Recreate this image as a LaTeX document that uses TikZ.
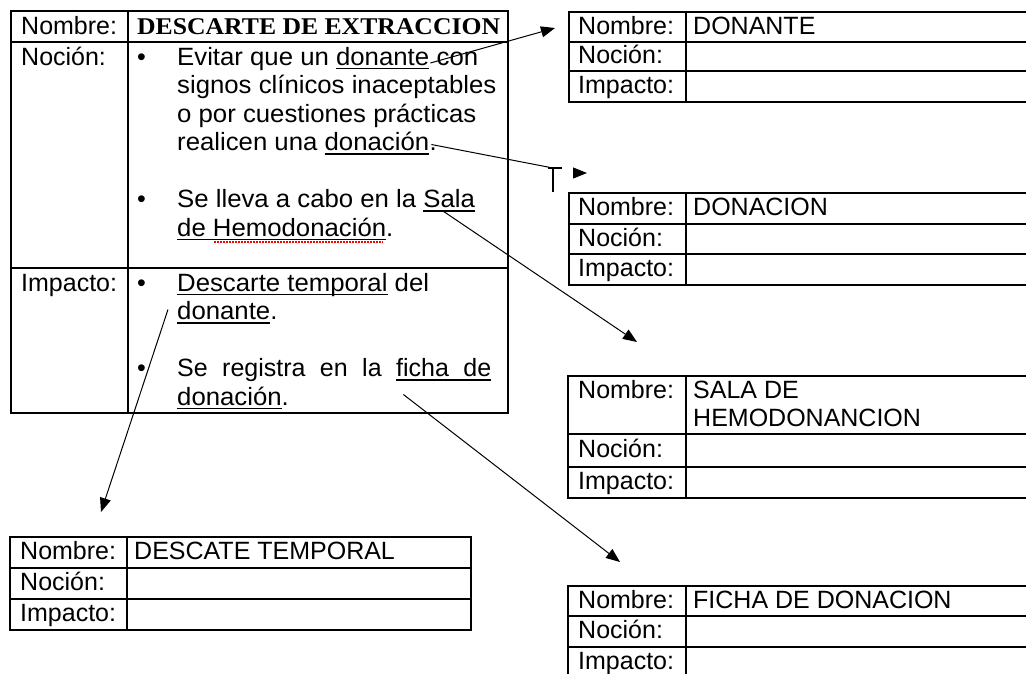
\documentclass[tikz,border=0pt]{standalone}
\usepackage{fontspec}
\setmainfont{Liberation Sans}
\newfontfamily\titlefont{Liberation Serif}
\newcommand\myul[1]{\leavevmode\setbox0\hbox{#1}\rlap{\rule[-4pt]{\wd0}{1.3pt}}\box0\relax}
\newcommand\js{\hskip 6.95pt plus 1fil\relax}
\newcommand\jsu{\leaders\hrule height -2.7pt depth 4pt\hskip 6.95pt plus 1fil\relax}
\usetikzlibrary{arrows.meta,calc}
\begin{document}
\begin{tikzpicture}[x=1pt,y=-1pt,
  txt/.style={anchor=base west,inner sep=0pt,font=\fontsize{25}{28.5}\selectfont},
  body/.style={txt,xscale=1.03},
  tbl/.style={line width=1.6pt},
  conn/.style={line width=1pt},
  arr/.style={line width=1pt,-{Triangle[length=14pt,width=11pt]}}]
\useasboundingbox (0,0) rectangle (1026,673);
\clip (0,0) rectangle (1026,673);

% ---------------- main table ----------------
\draw[tbl] (11,11) rectangle (508,413);
\draw[tbl] (128,11) -- (128,413);
\draw[tbl] (11,42) -- (508,42);
\draw[tbl] (11,268) -- (508,268);

\node[txt] (mnom) at (21,34) {Nombre:};
\node[txt] (title) at (137,34) {\fontsize{24}{28}\selectfont\titlefont\bfseries\scalebox{1.07}[1]{DESCARTE DE EXTRACCION}};
\node[txt] (mnoc) at (21,65) {Noción:};
\node[txt] (mimp) at (21,291) {Impacto:};

\node[txt] (b1) at (137,65) {•};
\node[txt] (b2) at (137,207.5) {•};
\node[txt] (b3) at (137,291) {•};
\node[txt] (b4) at (137,376.5) {•};

\node[body] (n1) at (177,65) {Evitar que un \myul{donante}};
\node[body] (n1b) at (n1.base east) {\ con};
\node[body] (n2) at (177,93.5) {signos clínicos inaceptables};
\node[body] (n3) at (177,122) {o por cuestiones prácticas};
\node[body] (n4) at (177,150.5) {realicen una \myul{donación}};
\node[body] (n4b) at (n4.base east) {.};
\node[body] (n5) at (177,207.5) {Se lleva a cabo en la \myul{Sala}};
\node[body] (n6) at (177,236) {\myul{de Hemodonación}.};
\draw[red,line width=1.5pt,dash pattern=on 1.5pt off 1.5pt] ($(n6.base west)+(37,6)$) -- ($(n6.base west)+(206,6)$);

\node[body] (i1) at (177,291) {\myul{Descarte temporal} del};
\node[body] (i2) at (177,319.5) {\myul{donante}.};
\node[txt] (i3) at (177,376.5) {\hbox to 314pt{Se\js registra\js en\js la\js \myul{ficha}\jsu\myul{de}}};
\node[body] (i4) at (177,405) {\myul{donación}.};

% ---------------- DONANTE ----------------
\draw[tbl] (1030,12) -- (569,12) -- (569,102) -- (1030,102);
\draw[tbl] (569,42) -- (1030,42);
\draw[tbl] (569,71) -- (1030,71);
\draw[tbl] (686,12) -- (686,102);
\node[txt] (d1) at (578,34) {Nombre:};
\node[txt] (d1v) at (693,34) {DONANTE};
\node[txt] (d2) at (578,63.5) {Noción:};
\node[txt] (d3) at (578,93) {Impacto:};

% ---------------- DONACION ----------------
\draw[tbl] (1030,193) -- (569,193) -- (569,285) -- (1030,285);
\draw[tbl] (569,224) -- (1030,224);
\draw[tbl] (569,254) -- (1030,254);
\draw[tbl] (686,193) -- (686,285);
\node[txt] (c1) at (578,215) {Nombre:};
\node[txt] (c1v) at (693,215) {DONACION};
\node[txt] (c2) at (578,246) {Noción:};
\node[txt] (c3) at (578,276) {Impacto:};

% ---------------- SALA ----------------
\draw[tbl] (1030,376) -- (568,376) -- (568,498) -- (1030,498);
\draw[tbl] (568,434) -- (1030,434);
\draw[tbl] (568,467) -- (1030,467);
\draw[tbl] (686,376) -- (686,498);
\node[txt] (s1) at (578,398) {Nombre:};
\node[txt] (s1v) at (693,398) {SALA DE};
\node[txt] (s1w) at (693,426.5) {HEMODONANCION};
\node[txt] (s2) at (578,457) {Noción:};
\node[txt] (s3) at (578,489) {Impacto:};

% ---------------- FICHA ----------------
\draw[tbl] (1030,586) -- (568,586) -- (568,680);
\draw[tbl] (568,616) -- (1030,616);
\draw[tbl] (568,647) -- (1030,647);
\draw[tbl] (686,586) -- (686,680);
\node[txt] (f1) at (578,608) {Nombre:};
\node[txt] (f1v) at (693,608) {FICHA DE DONACION};
\node[txt] (f2) at (578,638.5) {Noción:};
\node[txt] (f3) at (578,669) {Impacto:};

% ---------------- DESCATE TEMPORAL ----------------
\draw[tbl] (10,537) rectangle (471,630);
\draw[tbl] (10,568) -- (471,568);
\draw[tbl] (10,599) -- (471,599);
\draw[tbl] (127,537) -- (127,630);
\node[txt] (e1) at (20,559) {Nombre:};
\node[txt] (e1v) at (134,559) {DESCATE TEMPORAL};
\node[txt] (e2) at (20,590) {Noción:};
\node[txt] (e3) at (20,621) {Impacto:};

% ---------------- connectors ----------------
\coordinate (t1) at (555,28);
\draw[arr] ($(n1.base east)+(1,-2)$) -- (t1);

\coordinate (g2) at (553,168);
\draw[conn] ($(n4b.base west)+(2,-6)$) -- (g2);
\draw[line width=2.5pt] (g2) -- (553,192);
\draw[line width=2pt] (548,168) -- (562,168);
\coordinate (h2) at (573,173);
\coordinate (t2) at (587,173);
\draw[arr] (h2) -- (t2);

\coordinate (t3) at (637,342);
\draw[arr] ($(n5.base east)+(-33,3)$) -- (t3);

\coordinate (t4) at (101,512);
\draw[arr] ($(i2.base west)+(-9,-10)$) -- (t4);

\coordinate (t5) at (620,562);
\draw[arr] ($(i3.base east)+(-88,18)$) -- (t5);
\end{tikzpicture}
\end{document}
